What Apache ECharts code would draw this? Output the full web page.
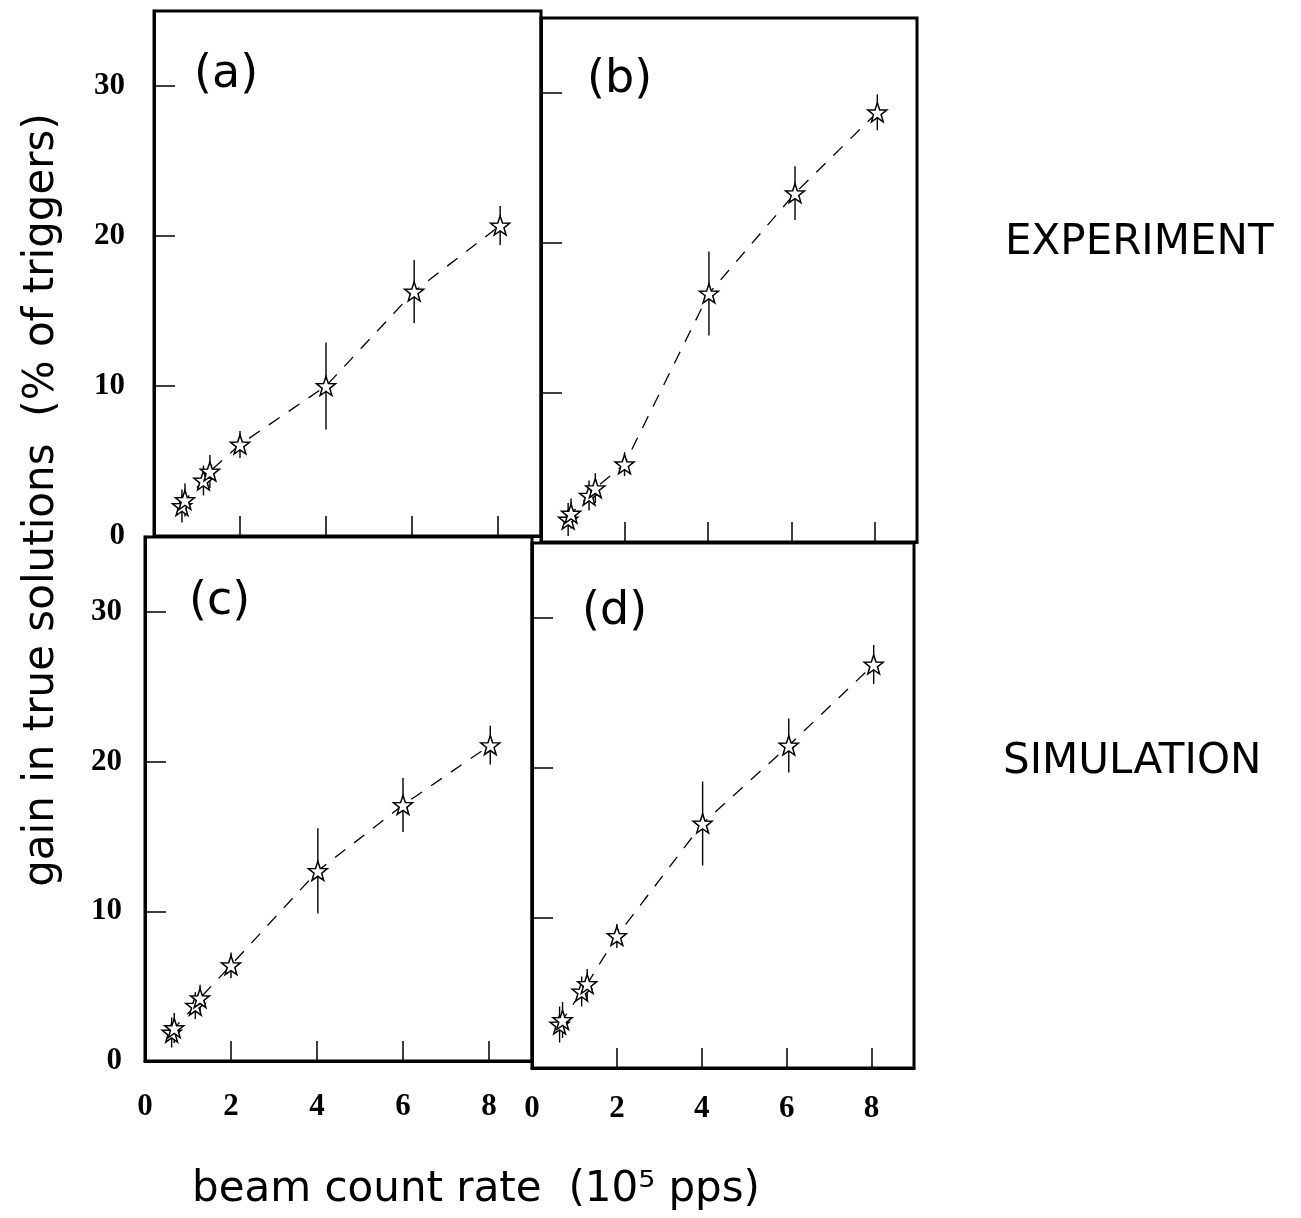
<!DOCTYPE html>
<html>
<head>
<meta charset="utf-8">
<script src="https://cdn.jsdelivr.net/npm/echarts@6/dist/echarts.min.js"></script>
<style>
html,body{margin:0;padding:0;background:#fff;}
#chart{width:1301px;height:1218px;}
</style>
</head>
<body>
<div id="chart"></div>
<script>
// ---- data ----
const panelLabels = ['(a)', '(b)', '(c)', '(d)'];
const rowLabels = ['EXPERIMENT', 'SIMULATION'];
const xTicks = [0, 2, 4, 6, 8];
const yTicks = [0, 10, 20, 30];

const xA = [0.65, 0.72, 1.15, 1.30, 2.00, 4.00, 6.05, 8.05];
const yA = [2.0, 2.4, 3.7, 4.3, 6.1, 10.0, 16.3, 20.7];
const eA = [1.1, 1.1, 1.0, 1.1, 0.9, 2.9, 2.1, 1.3];

const xB = [0.65, 0.72, 1.15, 1.30, 2.00, 4.02, 6.08, 8.05];
const yB = [1.5, 1.9, 3.1, 3.6, 5.2, 16.6, 23.3, 28.7];
const eB = [1.1, 1.0, 1.0, 1.0, 0.8, 2.8, 1.8, 1.2];

const xC = [0.62, 0.68, 1.17, 1.28, 2.00, 4.02, 6.00, 8.03];
const yC = [1.9, 2.2, 3.7, 4.2, 6.4, 12.7, 17.1, 21.1];
const eC = [1.0, 1.0, 0.9, 0.9, 0.85, 2.85, 1.8, 1.3];

const xD = [0.65, 0.72, 1.17, 1.30, 2.00, 4.02, 6.05, 8.05];
const yD = [2.9, 3.2, 5.1, 5.6, 8.8, 16.3, 21.5, 26.9];
const eD = [1.2, 1.2, 1.0, 1.0, 0.8, 2.8, 1.8, 1.3];

const panels = [
  {x: xA, y: yA, e: eA},
  {x: xB, y: yB, e: eB},
  {x: xC, y: yC, e: eC},
  {x: xD, y: yD, e: eD}
];

// ---- layout ----
const grids = [
  {left: 154, top: 11,  width: 387, height: 525},
  {left: 541, top: 18,  width: 376, height: 524},
  {left: 145, top: 537, width: 387, height: 524},
  {left: 532, top: 543, width: 382, height: 525}
];
const yLabelMargin = [29, 0, 23, 0];
const xLabelMargin = [0, 0, 30, 25];

const STAR = 'path://M0,-10 L2.35,-3.24 L9.51,-3.09 L3.8,1.24 L5.88,8.09 L0,4.2 L-5.88,8.09 L-3.8,1.24 L-9.51,-3.09 L-2.35,-3.24 Z';
const serif = "'Liberation Serif', 'DejaVu Serif', serif";
const sans = "'DejaVu Sans', sans-serif";

const option = {
  animation: false,
  backgroundColor: '#fff',
  grid: grids.map(g => Object.assign({show: true, borderColor: '#000', borderWidth: 3, backgroundColor: 'transparent'}, g)),
  xAxis: grids.map((g, i) => ({
    type: 'value', gridIndex: i, min: 0, max: 9, interval: 2,
    splitLine: {show: false},
    axisLine: {show: true, lineStyle: {color: '#000', width: 3}},
    axisTick: {show: true, inside: true, length: 20, lineStyle: {color: '#000', width: 1.5}},
    axisLabel: {
      show: i >= 2, margin: xLabelMargin[i], color: '#000',
      fontFamily: serif, fontWeight: 'bold', fontSize: 31,
      formatter: v => (xTicks.indexOf(v) >= 0 ? String(v) : '')
    }
  })),
  yAxis: grids.map((g, i) => ({
    type: 'value', gridIndex: i, min: 0, max: 35, interval: 10,
    splitLine: {show: false},
    axisLine: {show: true, lineStyle: {color: '#000', width: 3}},
    axisTick: {show: true, inside: true, length: 21, lineStyle: {color: '#000', width: 1.5}},
    axisLabel: {
      show: i % 2 === 0, margin: yLabelMargin[i], color: '#000',
      fontFamily: serif, fontWeight: 'bold', fontSize: 31,
      formatter: v => (yTicks.indexOf(v) >= 0 ? String(v) : '')
    }
  })),
  series: [],
  graphic: []
};

panels.forEach((p, i) => {
  const pts = p.x.map((xv, k) => [xv, p.y[k]]);
  const bars = p.x.map((xv, k) => [xv, p.y[k] - p.e[k], p.y[k] + p.e[k]]);
  option.series.push({
    type: 'custom', xAxisIndex: i, yAxisIndex: i, z: 2,
    data: bars,
    renderItem: function (params, api) {
      const a = api.coord([api.value(0), api.value(1)]);
      const b = api.coord([api.value(0), api.value(2)]);
      return {type: 'line', shape: {x1: a[0], y1: a[1], x2: b[0], y2: b[1]},
              style: {stroke: '#000', lineWidth: 1.4}};
    }
  });
  option.series.push({
    type: 'line', xAxisIndex: i, yAxisIndex: i, z: 3,
    data: pts,
    symbol: STAR, symbolSize: 19,
    itemStyle: {color: '#fff', borderColor: '#000', borderWidth: 1.5},
    lineStyle: {color: '#000', width: 1.3, type: [13, 11]}
  });
});

// panel letters
const letterPos = [[194, 75], [587, 80], [189, 602], [582, 612]];
panelLabels.forEach((t, i) => {
  option.graphic.push({
    type: 'text', x: letterPos[i][0], y: letterPos[i][1], z: 10,
    style: {text: t, fill: '#000', fontFamily: sans, fontSize: 46,
            textAlign: 'left', textVerticalAlign: 'middle', align: 'left', verticalAlign: 'middle'}
  });
});

// row labels
option.graphic.push({
  type: 'text', x: 1005, y: 243, z: 10,
  style: {text: rowLabels[0], fill: '#000', fontFamily: sans, fontSize: 42,
          textAlign: 'left', textVerticalAlign: 'middle', align: 'left', verticalAlign: 'middle'}
});
option.graphic.push({
  type: 'text', x: 1003, y: 762, z: 10,
  style: {text: rowLabels[1], fill: '#000', fontFamily: sans, fontSize: 42,
          textAlign: 'left', textVerticalAlign: 'middle', align: 'left', verticalAlign: 'middle'}
});

// axis titles
option.graphic.push({
  type: 'text', x: 42, y: 500, rotation: Math.PI / 2, z: 10,
  style: {text: 'gain in true solutions  (% of triggers)', fill: '#000', fontFamily: sans, fontSize: 42,
          textAlign: 'center', textVerticalAlign: 'middle', align: 'center', verticalAlign: 'middle'}
});
option.graphic.push({
  type: 'text', x: 476, y: 1190, z: 10,
  style: {text: 'beam count rate  (10\u2075 pps)', fill: '#000', fontFamily: sans, fontSize: 42,
          textAlign: 'center', textVerticalAlign: 'middle', align: 'center', verticalAlign: 'middle'}
});

const chart = echarts.init(document.getElementById('chart'), null, {renderer: 'canvas'});
chart.setOption(option);
</script>
</body>
</html>
